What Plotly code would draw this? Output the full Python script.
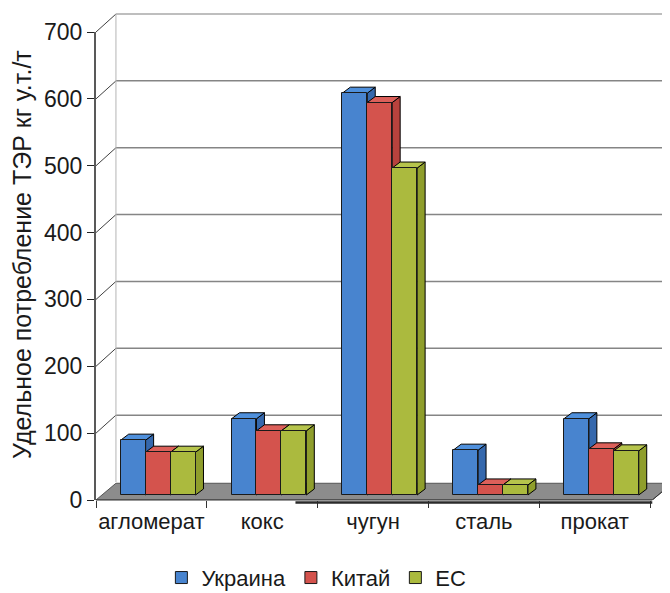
import plotly.graph_objects as go

# ---- data ----
categories = ["агломерат", "кокс", "чугун", "сталь", "прокат"]
ukraine = [82, 114, 601, 67, 114]
china = [64, 96, 587, 15, 69]
eu = [64, 96, 489, 15, 66]
series_names = ["Украина", "Китай", "ЕС"]
y_ticks = [0, 100, 200, 300, 400, 500, 600, 700]
y_title = "Удельное потребление ТЭР кг у.т./т"

# ---- style ----
FONT = "Liberation Sans, Arial, sans-serif"
front_cols = ["#4884cf", "#d4534d", "#abba3e"]
side_cols = ["#3568ad", "#b8423d", "#8f9e2c"]
top_cols = ["#4f90dc", "#dc605a", "#b6c44c"]
BAR_W = 0.225
BAR_OFF = 0.223
DX, DY = 0.072, 9.0          # bar depth
BASE = 7.5                   # bar base above front floor edge
WDX, WDY = 0.18, 26.9        # back wall offset
XMAX = 5.02
XR = [-0.009, 5.18]
YR = [0, 735.9]

series = [ukraine, china, eu]
fig = go.Figure()
shapes = []

def poly(pts, fill, line="#000000", lw=1):
    d = "M " + " L ".join(f"{x},{y}" for x, y in pts) + " Z"
    return dict(type="path", path=d, xref="x", yref="y", fillcolor=fill,
                line=dict(color=line, width=lw), layer="below")

# floor
shapes.append(poly([(0, 0), (XMAX, 0), (XMAX + WDX, WDY * 0.93), (WDX, WDY * 0.93)],
                   "#8c8c8c", "#555555", 1))
# back wall grid lines
for v in y_ticks[1:]:
    shapes.append(dict(type="line", xref="x", yref="y", x0=WDX, x1=XR[1] + 1,
                       y0=v + WDY, y1=v + WDY, layer="below",
                       line=dict(color="#a8a8a8" if v == 700 else "#858585", width=1.5)))
    shapes.append(dict(type="line", xref="x", yref="y", x0=0, x1=WDX,
                       y0=v, y1=v + WDY, layer="below",
                       line=dict(color="#404040", width=1)))
# back wall left edge
shapes.append(dict(type="line", xref="x", yref="y", x0=WDX, x1=WDX,
                   y0=WDY, y1=700 + WDY, layer="below",
                   line=dict(color="#b5b5b5", width=1)))

for j, vals in enumerate(series):
    xs = [i + BAR_OFF + (j + 0.5) * BAR_W for i in range(len(categories))]
    fig.add_trace(go.Bar(
        x=xs, y=vals, base=[BASE] * len(vals), width=BAR_W, name=series_names[j],
        marker=dict(color=front_cols[j], line=dict(color="#1a1a1a", width=1)),
        hoverinfo="y"))
    for i, v in enumerate(vals):
        x0 = i + BAR_OFF + j * BAR_W
        x1 = x0 + BAR_W
        t = BASE + v
        shapes.append(poly([(x1, BASE), (x1, t), (x1 + DX, t + DY), (x1 + DX, BASE + DY)],
                           side_cols[j]))
        shapes.append(poly([(x0, t), (x1, t), (x1 + DX, t + DY), (x0 + DX, t + DY)],
                           top_cols[j]))

# axis lines
shapes.append(dict(type="line", xref="paper", yref="y", x0=0, x1=0, y0=0, y1=700,
                   line=dict(color="#222222", width=1.5), layer="above"))
shapes.append(dict(type="line", xref="x", yref="paper", x0=0, x1=XMAX, y0=0, y1=0,
                   line=dict(color="#333333", width=1), layer="above"))
shapes.append(dict(type="line", xref="x", yref="paper", x0=1.8, x1=XMAX, y0=-0.005, y1=-0.005,
                   line=dict(color="#2a2a2a", width=2.5), layer="above"))
shapes.append(dict(type="line", xref="x", yref="y", x0=XMAX, x1=XMAX + WDX, y0=0, y1=WDY * 0.93,
                   line=dict(color="#333333", width=1), layer="above"))

fig.update_layout(
    width=662, height=585,
    margin=dict(l=87, r=0, t=0, b=93, autoexpand=False),
    paper_bgcolor="white", plot_bgcolor="white",
    barmode="overlay", bargap=0,
    shapes=shapes,
    font=dict(family=FONT, size=22, color="#1a1a1a"),
    showlegend=True,
    legend=dict(orientation="h", x=0.385, xanchor="center", y=-0.158, yanchor="middle",
                font=dict(family=FONT, size=22, color="#1a1a1a"),
                itemwidth=30, tracegroupgap=0, bgcolor="rgba(0,0,0,0)"),
    xaxis=dict(range=XR, showgrid=False, zeroline=False, showline=False,
               tickmode="array", tickvals=[i + 0.5 for i in range(len(categories))],
               ticktext=categories, ticks="", ticklabelstandoff=6,
               minor=dict(tickmode="array", tickvals=list(range(len(categories) + 1)),
                          ticks="outside", ticklen=7, tickcolor="#333333", tickwidth=1,
                          showgrid=False),
               tickfont=dict(family=FONT, size=22), fixedrange=True),
    yaxis=dict(range=YR, showgrid=False, zeroline=False, showline=False,
               tickmode="array", tickvals=y_ticks, ticks="outside", ticklen=7,
               tickcolor="#222222", tickfont=dict(family=FONT, size=23), fixedrange=True),
    annotations=[dict(text=y_title, xref="paper", yref="paper", x=-0.127, y=0.5,
                      xanchor="center", yanchor="middle", textangle=-90, showarrow=False,
                      font=dict(family=FONT, size=25, color="#1a1a1a"))],
)

fig.write_html("out.html")
